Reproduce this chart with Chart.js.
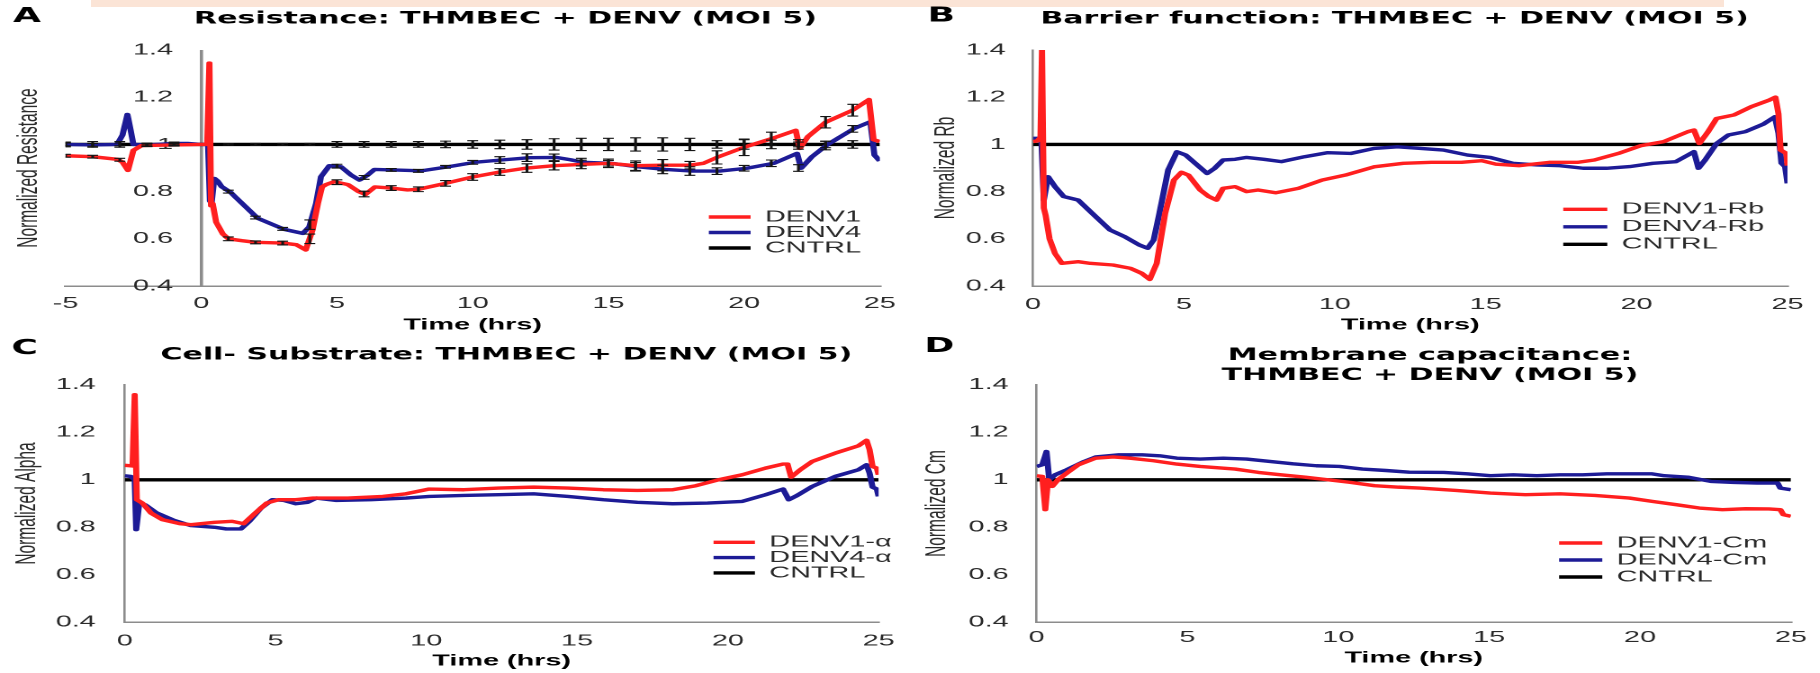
<!DOCTYPE html>
<html lang="en">
<head>
<meta charset="utf-8">
<title>THMBEC + DENV (MOI 5) impedance</title>
<script src="https://cdn.jsdelivr.net/npm/chart.js@4.4.1/dist/chart.umd.min.js"></script>
<style>
  html, body { margin: 0; padding: 0; background: #fff; }
  body { width: 1820px; height: 673px; position: relative; overflow: hidden; }
  .band { position: absolute; left: 91px; top: 0; width: 1633px; height: 7px; background: #fbe4d6; }
  .panel { position: absolute; transform-origin: 0 0; transform: scaleX(1.8); }
  .panel canvas { display: block; }
</style>
</head>
<body>
<div class="band"></div>
<div class="panel" style="left:0;top:0"><canvas id="chartA" width="506" height="333"></canvas></div>
<div class="panel" style="left:910px;top:0"><canvas id="chartB" width="506" height="333"></canvas></div>
<div class="panel" style="left:0;top:333px"><canvas id="chartC" width="506" height="340"></canvas></div>
<div class="panel" style="left:910px;top:333px"><canvas id="chartD" width="506" height="340"></canvas></div>
<script>
// ---------- axis ticks ----------
const Y_TICK_VALUES = [0.4, 0.6, 0.8, 1.0, 1.2, 1.4];
const Y_TICK_LABELS = ['0.4', '0.6', '0.8', '1', '1.2', '1.4'];
const X_TICK_VALUES_A = [-5, 0, 5, 10, 15, 20, 25];
const X_TICK_LABELS_A = ['-5', '0', '5', '10', '15', '20', '25'];
const X_TICK_VALUES = [0, 5, 10, 15, 20, 25];
const X_TICK_LABELS = ['0', '5', '10', '15', '20', '25'];

// ---------- control (normalized to 1) ----------
const CNTRL_HRS_A = [-5, 25];
const CNTRL_HRS = [0, 25];
const CNTRL_VAL = [1, 1];

// ---------- A: resistance ----------
const A_DENV1_HRS = [-5, -4, -3.1, -2.9, -2.7, -2.5, -2.2, -1, 0, 0.22, 0.3, 0.36, 0.42, 0.55, 0.8, 1, 1.5, 2, 3, 3.5, 3.85, 4.1, 4.3, 4.45, 4.6, 4.9, 5.4, 5.8, 6.05, 6.4, 7, 7.6, 8, 9, 10, 11, 12, 13, 14, 15, 16, 17, 18, 18.5, 19, 20, 21, 21.9, 22.05, 22.35, 23, 24, 24.6, 24.77, 25];
const A_DENV1_VAL = [0.952, 0.948, 0.937, 0.925, 0.89, 0.975, 0.995, 0.998, 1.0, 1.0, 1.345, 0.74, 0.75, 0.67, 0.62, 0.6, 0.592, 0.585, 0.582, 0.575, 0.553, 0.637, 0.75, 0.82, 0.83, 0.842, 0.83, 0.8, 0.788, 0.82, 0.815, 0.807, 0.81, 0.835, 0.862, 0.883, 0.9, 0.91, 0.915, 0.92, 0.91, 0.912, 0.912, 0.92, 0.945, 0.988, 1.024, 1.06, 0.983, 1.033, 1.094, 1.145, 1.19, 1.02, 1.012];
const A_DENV4_HRS = [-5, -4, -3.1, -2.9, -2.72, -2.6, -2.5, -2, -1, -0.5, 0, 0.25, 0.32, 0.38, 0.48, 0.6, 0.75, 1.1, 1.25, 2.08, 3.06, 3.74, 3.98, 4.23, 4.41, 4.72, 5.15, 5.52, 5.83, 6.13, 6.38, 7.36, 8.1, 9.08, 10.06, 11.05, 12.1, 13.07, 13.6, 14.08, 15.1, 16.1, 17.1, 18.1, 19.1, 20.1, 21.1, 21.95, 22.1, 22.5, 23.08, 24.06, 24.65, 24.8, 25];
const A_DENV4_VAL = [1.0, 0.998, 1.0, 1.04, 1.127, 1.06, 1.0, 0.998, 1.004, 1.004, 1.0, 1.0, 0.76, 0.75, 0.856, 0.845, 0.821, 0.795, 0.778, 0.687, 0.64, 0.623, 0.651, 0.75, 0.863, 0.91, 0.905, 0.87, 0.849, 0.87, 0.894, 0.891, 0.888, 0.905, 0.924, 0.934, 0.944, 0.945, 0.935, 0.924, 0.92, 0.905, 0.894, 0.887, 0.887, 0.899, 0.92, 0.962, 0.899, 0.948, 1.0, 1.068, 1.096, 0.955, 0.93];

// hourly error bars (mean and SD) for panel A
const ERR_HRS_A = [-5, -4, -3, -2, -1, 1, 2, 3, 4, 5, 6, 7, 8, 9, 10, 11, 12, 13, 14, 15, 16, 17, 18, 19, 20, 21, 22, 23, 24];
const A_DENV1_MEAN = [0.952, 0.948, 0.935, 0.996, 0.998, 0.6, 0.585, 0.582, 0.6, 0.84, 0.79, 0.815, 0.81, 0.835, 0.862, 0.883, 0.9, 0.91, 0.915, 0.92, 0.91, 0.912, 0.912, 0.945, 0.988, 1.024, 1.0, 1.094, 1.145];
const A_DENV1_SD = [0.006, 0.006, 0.006, 0.005, 0.005, 0.008, 0.006, 0.008, 0.02, 0.01, 0.012, 0.01, 0.01, 0.012, 0.014, 0.014, 0.018, 0.018, 0.018, 0.012, 0.02, 0.024, 0.016, 0.028, 0.035, 0.028, 0.02, 0.024, 0.025];
const A_DENV4_MEAN = [1.0, 0.998, 1.0, 0.998, 1.004, 0.8, 0.69, 0.642, 0.66, 0.908, 0.86, 0.892, 0.888, 0.905, 0.924, 0.934, 0.944, 0.945, 0.925, 0.92, 0.905, 0.894, 0.887, 0.887, 0.899, 0.92, 0.9, 0.995, 1.066];
const A_DENV4_SD = [0.006, 0.006, 0.006, 0.006, 0.006, 0.006, 0.006, 0.006, 0.02, 0.008, 0.008, 0.006, 0.006, 0.006, 0.008, 0.014, 0.016, 0.014, 0.016, 0.018, 0.018, 0.018, 0.018, 0.014, 0.012, 0.014, 0.014, 0.018, 0.014];
const A_CNTRL_MEAN = [1, 1, 1, 1, 1, 1, 1, 1, 1, 1, 1, 1, 1, 1, 1, 1, 1, 1, 1, 1, 1, 1, 1, 1, 1, 1, 1, 1, 1];
const A_CNTRL_SD = [0.01, 0.012, 0.012, 0.006, 0.006, 0.003, 0.004, 0.004, 0.004, 0.012, 0.012, 0.012, 0.012, 0.014, 0.016, 0.018, 0.02, 0.024, 0.026, 0.026, 0.028, 0.028, 0.026, 0.016, 0.02, 0.018, 0.01, 0.014, 0.016];

// ---------- B: barrier function (Rb) ----------
const B_DENV1_HRS = [0, 0.15, 0.25, 0.3, 0.36, 0.42, 0.55, 0.73, 0.96, 1.5, 1.9, 2.65, 3.23, 3.6, 3.87, 4.1, 4.38, 4.67, 4.92, 5.15, 5.54, 5.83, 6.08, 6.3, 6.7, 7.08, 7.46, 8.04, 8.8, 9.58, 10.35, 11.3, 12.27, 13.2, 14.2, 14.87, 15.35, 16.1, 17.1, 18.04, 18.6, 19.4, 20.15, 20.9, 21.7, 21.9, 22.08, 22.37, 22.65, 23.23, 23.8, 24.4, 24.6, 24.7, 24.77, 24.96, 25];
const B_DENV1_VAL = [1.012, 1.015, 1.03, 1.4, 0.73, 0.7, 0.6, 0.538, 0.496, 0.503, 0.496, 0.489, 0.475, 0.454, 0.428, 0.496, 0.708, 0.849, 0.882, 0.87, 0.807, 0.779, 0.764, 0.814, 0.821, 0.8, 0.807, 0.795, 0.814, 0.849, 0.87, 0.905, 0.92, 0.924, 0.924, 0.931, 0.916, 0.91, 0.924, 0.924, 0.934, 0.962, 0.995, 1.012, 1.054, 1.061, 1.004, 1.054, 1.11, 1.125, 1.16, 1.188, 1.2, 1.13, 0.976, 0.962, 0.91];
const B_DENV4_HRS = [0, 0.2, 0.28, 0.36, 0.5, 0.73, 1.02, 1.5, 2.08, 2.56, 3.04, 3.52, 3.8, 4.0, 4.19, 4.48, 4.77, 5.06, 5.44, 5.77, 6.02, 6.3, 6.7, 7.08, 7.65, 8.23, 9.0, 9.77, 10.54, 11.3, 12.08, 12.85, 13.6, 14.4, 15.15, 15.9, 16.7, 17.46, 18.23, 19.0, 19.77, 20.54, 21.3, 21.9, 22.05, 22.27, 22.65, 23.04, 23.6, 24.2, 24.58, 24.7, 24.8, 24.92, 25];
const B_DENV4_VAL = [1.026, 1.026, 1.02, 0.764, 0.863, 0.821, 0.779, 0.764, 0.694, 0.637, 0.609, 0.574, 0.56, 0.595, 0.708, 0.892, 0.969, 0.955, 0.913, 0.877, 0.899, 0.934, 0.937, 0.945, 0.937, 0.927, 0.948, 0.965, 0.962, 0.983, 0.99, 0.983, 0.976, 0.955, 0.945, 0.92, 0.913, 0.91, 0.899, 0.899, 0.906, 0.92, 0.927, 0.969, 0.899, 0.934, 1.004, 1.04, 1.054, 1.086, 1.117, 1.047, 0.92, 0.906, 0.835];

// ---------- C: cell-substrate (alpha) ----------
const C_DENV1_HRS = [0, 0.26, 0.33, 0.4, 0.58, 0.87, 1.25, 1.83, 2.2, 2.98, 3.56, 3.94, 4.33, 4.71, 5.1, 5.67, 6.25, 7.4, 8.56, 9.33, 10.1, 11.25, 12.4, 13.56, 14.7, 15.87, 17.0, 18.17, 18.94, 19.7, 20.48, 21.25, 21.83, 21.98, 22.1, 22.4, 22.8, 23.56, 24.33, 24.6, 24.7, 24.8, 24.94, 25];
const C_DENV1_VAL = [1.061, 1.058, 1.358, 0.916, 0.902, 0.86, 0.832, 0.815, 0.811, 0.821, 0.825, 0.815, 0.86, 0.902, 0.916, 0.916, 0.923, 0.923, 0.93, 0.941, 0.961, 0.958, 0.965, 0.969, 0.965, 0.958, 0.955, 0.958, 0.975, 1.0, 1.021, 1.049, 1.066, 1.066, 1.011, 1.042, 1.077, 1.112, 1.143, 1.166, 1.127, 1.056, 1.049, 1.021];
const C_DENV4_HRS = [0, 0.2, 0.33, 0.38, 0.48, 0.67, 1.06, 1.63, 2.2, 2.98, 3.37, 3.85, 4.13, 4.52, 4.9, 5.29, 5.67, 6.06, 6.35, 7.02, 8.17, 9.33, 10.1, 11.25, 12.4, 13.56, 14.7, 15.87, 17.0, 18.17, 19.33, 20.48, 21.25, 21.83, 22.02, 22.3, 22.8, 23.56, 24.33, 24.6, 24.7, 24.8, 24.94, 25];
const C_DENV4_VAL = [1.017, 1.014, 1.0, 0.79, 0.902, 0.895, 0.86, 0.829, 0.807, 0.8, 0.793, 0.793, 0.825, 0.881, 0.916, 0.913, 0.899, 0.905, 0.923, 0.913, 0.916, 0.923, 0.93, 0.934, 0.937, 0.941, 0.93, 0.916, 0.905, 0.899, 0.902, 0.909, 0.937, 0.961, 0.916, 0.934, 0.972, 1.014, 1.042, 1.063, 1.028, 0.969, 0.961, 0.93];

// ---------- D: membrane capacitance (Cm) ----------
const D_DENV1_HRS = [0, 0.19, 0.29, 0.38, 0.52, 0.71, 1.0, 1.38, 1.96, 2.54, 3.1, 3.88, 4.65, 5.42, 6.58, 7.35, 8.1, 8.9, 9.65, 10.4, 11.2, 12.0, 12.7, 13.9, 15.04, 16.2, 17.35, 18.5, 19.65, 20.4, 21.2, 21.96, 22.73, 23.5, 24.27, 24.65, 24.75, 25];
const D_DENV1_VAL = [1.017, 1.014, 0.874, 1.0, 0.972, 1.0, 1.028, 1.063, 1.091, 1.096, 1.091, 1.08, 1.066, 1.056, 1.045, 1.031, 1.021, 1.011, 1.0, 0.989, 0.975, 0.969, 0.965, 0.955, 0.944, 0.937, 0.941, 0.934, 0.923, 0.909, 0.895, 0.881, 0.874, 0.878, 0.877, 0.874, 0.853, 0.846];
const D_DENV4_HRS = [0, 0.19, 0.33, 0.42, 0.62, 1.0, 1.58, 1.96, 2.73, 3.5, 4.08, 4.65, 5.42, 6.19, 6.96, 7.73, 8.5, 9.27, 10.04, 10.8, 11.58, 12.35, 13.5, 14.27, 15.04, 15.8, 16.58, 17.35, 18.1, 18.9, 19.65, 20.4, 20.8, 21.58, 22.35, 23.1, 23.88, 24.56, 24.65, 25];
const D_DENV4_VAL = [1.056, 1.063, 1.119, 1.0, 1.021, 1.042, 1.077, 1.096, 1.105, 1.105, 1.101, 1.091, 1.087, 1.091, 1.087, 1.077, 1.067, 1.059, 1.056, 1.045, 1.039, 1.032, 1.031, 1.025, 1.017, 1.021, 1.017, 1.021, 1.021, 1.025, 1.025, 1.025, 1.017, 1.011, 0.993, 0.989, 0.986, 0.986, 0.965, 0.958];

// ---------- styling ----------
const RED = '#ff1f1f';
const BLUE = '#1d1b96';
const BLACK = '#000000';
const AXIS_GRAY = '#8c8c8c';
const TEXT = '#2a2a2a';
const SANS = '"Liberation Sans", Arial, sans-serif';
Chart.defaults.font.family = SANS;

function points(xs, ys) { return xs.map((x, i) => ({ x: x, y: ys[i] })); }

function curve(label, xs, ys, color, order) {
  return {
    type: 'line', label: label, data: points(xs, ys), order: order,
    borderColor: color, backgroundColor: color, borderWidth: 3.4,
    borderJoinStyle: 'round', pointRadius: 0, pointHoverRadius: 0, tension: 0, fill: false
  };
}

function errorStems(xs, mean, sd) {
  return {
    type: 'bar', errorBar: true, order: 0, grouped: false,
    data: xs.map((x, i) => ({ x: x, y: [mean[i] - sd[i], mean[i] + sd[i]] })),
    backgroundColor: '#151515', barThickness: 0.9
  };
}

function errorCaps(xs, mean, sd) {
  const d = [];
  xs.forEach((x, i) => { d.push({ x: x, y: mean[i] - sd[i] }); d.push({ x: x, y: mean[i] + sd[i] }); });
  return {
    type: 'scatter', errorBar: true, order: 0, data: d, showLine: false,
    pointStyle: 'line', pointRadius: 3, pointHoverRadius: 3,
    pointBorderColor: '#151515', pointBorderWidth: 1.1, borderColor: '#151515'
  };
}

// places the panel letter, centres the title and pins the legend inside the plot
const panelDecor = {
  id: 'panelDecor',
  afterLayout(chart, args, o) {
    const t = chart.titleBlock;
    if (t) { t.left = o.titleX - 240; t.right = o.titleX + 240; t.width = 480; }
    const lg = chart.legend;
    if (lg) {
      const pad = chart.options.plugins.legend.labels.padding;
      const w = lg.width;
      lg.left = o.legendX - pad;
      lg.right = lg.left + w;
      lg.top = o.legendY - 8 - pad;
      lg.bottom = lg.top + 200;
    }
  },
  afterDraw(chart, args, o) {
    const ctx = chart.ctx;
    ctx.save();
    ctx.font = 'bold 20px "DejaVu Sans"';
    ctx.fillStyle = '#000';
    ctx.textAlign = 'left';
    ctx.textBaseline = 'middle';
    ctx.fillText(o.letter, o.letterX, o.letterY);
    ctx.restore();
  }
};

function yTicksFrom(s) { s.ticks = Y_TICK_VALUES.map(v => ({ value: v })); }

function buildPanel(id, p) {
  const datasets = [
    curve(p.names[0], p.d1x, p.d1y, RED, 1),
    curve(p.names[1], p.d4x, p.d4y, BLUE, 2),
    curve(p.names[2], p.cx, CNTRL_VAL, BLACK, 3)
  ];
  if (p.errors) {
    p.errors.forEach(e => {
      datasets.push(errorStems(ERR_HRS_A, e[0], e[1]));
      datasets.push(errorCaps(ERR_HRS_A, e[0], e[1]));
    });
  }
  const crossAtZero = !!p.crossAtZero;
  const tickFont = { family: SANS, size: 16 };

  const scales = {
    x: {
      type: 'linear', min: p.xTicks[0], max: p.xTicks[p.xTicks.length - 1],
      offset: false,
      afterBuildTicks: s => { s.ticks = p.xTicks.map(v => ({ value: v })); },
      afterFit: s => { s.height = p.xAxisH; },
      ticks: {
        autoSkip: false, maxRotation: 0, padding: p.xTickPad, color: TEXT, font: tickFont,
        callback: (v, i) => p.xLabels[i]
      },
      // when the vertical axis crosses at 0 h it is drawn as the 0 h grid line
      grid: {
        display: crossAtZero, drawTicks: false, offset: false, lineWidth: 1.8,
        color: c => (c.tick && c.tick.value === 0) ? AXIS_GRAY : 'rgba(0,0,0,0)'
      },
      border: { display: true, color: AXIS_GRAY, width: 1.5 },
      title: {
        display: true, text: 'Time (hrs)', color: '#000',
        font: { family: SANS, weight: 'bold', size: 16 },
        padding: { top: 0, bottom: p.xTitlePad }
      }
    },
    y: {
      type: 'linear', position: 'left', min: 0.4, max: 1.4, beginAtZero: false,
      afterBuildTicks: yTicksFrom,
      afterFit: s => { s.width = p.yAxisW; },
      ticks: {
        display: !crossAtZero, autoSkip: false, padding: p.yTickPad, color: TEXT, font: tickFont,
        callback: (v, i) => Y_TICK_LABELS[i]
      },
      grid: { display: false, drawTicks: false },
      border: { display: !crossAtZero, color: AXIS_GRAY, width: 1.3 },
      title: {
        display: true, text: p.yTitle, color: TEXT,
        font: { family: SANS, size: 15.5 },
        padding: { top: p.yTitlePad, bottom: 0 }
      }
    }
  };
  if (crossAtZero) {
    // value labels sitting beside the 0 h axis line (mirrored right-hand scale)
    scales.yCross = {
      type: 'linear', position: 'right', min: 0.4, max: 1.4, beginAtZero: false,
      afterBuildTicks: yTicksFrom,
      afterFit: s => {
        s.width = 0;
        s.paddingTop = 0; s.paddingBottom = 0; s.paddingLeft = 0; s.paddingRight = 0;
      },
      ticks: {
        mirror: true, crossAlign: 'near', autoSkip: false, padding: p.yCrossPad,
        color: TEXT, font: tickFont,
        callback: (v, i) => Y_TICK_LABELS[i]
      },
      grid: { display: false, drawTicks: false },
      border: { display: false }
    };
  }

  new Chart(document.getElementById(id), {
    type: 'line',
    data: { datasets: datasets },
    options: {
      responsive: false,
      animation: false,
      devicePixelRatio: 2,
      events: [],
      layout: { padding: { left: 0, right: p.padRight, top: 0, bottom: 0 } },
      plugins: {
        tooltip: { enabled: false },
        title: {
          display: true, text: p.title, color: '#000',
          font: { family: '"DejaVu Sans", sans-serif', weight: 'bold', size: 16.7, lineHeight: 1.2 },
          padding: { top: p.titlePad[0], bottom: p.titlePad[1] }
        },
        legend: {
          display: true, position: 'chartArea', align: 'start',
          labels: {
            usePointStyle: true, pointStyle: 'line', pointStyleWidth: p.legendLine,
            font: { family: SANS, size: 16 }, color: TEXT, padding: p.legendPad,
            filter: (item, data) => !data.datasets[item.datasetIndex].errorBar
          }
        },
        panelDecor: {
          letter: p.letter, letterX: p.letterXY[0], letterY: p.letterXY[1],
          titleX: p.titleX, legendX: p.legendXY[0], legendY: p.legendXY[1]
        }
      },
      scales: scales
    },
    plugins: [panelDecor]
  });
}

buildPanel('chartA', {
  letter: 'A', letterXY: [7.2, 17],
  title: 'Resistance: THMBEC + DENV (MOI 5)', titleX: 280.8, titlePad: [9, 21],
  yTitle: 'Normalized Resistance', yTitlePad: 6.7,
  names: ['DENV1', 'DENV4', 'CNTRL'],
  d1x: A_DENV1_HRS, d1y: A_DENV1_VAL, d4x: A_DENV4_HRS, d4y: A_DENV4_VAL, cx: CNTRL_HRS_A,
  errors: [[A_DENV1_MEAN, A_DENV1_SD], [A_DENV4_MEAN, A_DENV4_SD], [A_CNTRL_MEAN, A_CNTRL_SD]],
  crossAtZero: true, yCrossPad: -392.7,
  xTicks: X_TICK_VALUES_A, xLabels: X_TICK_LABELS_A,
  padRight: 17.2, yAxisW: 36.4, xAxisH: 47, yTickPad: 0, xTickPad: 8, xTitlePad: -1.6,
  legendXY: [393.3, 217], legendLine: 23.7, legendPad: -0.5
});

buildPanel('chartB', {
  letter: 'B', letterXY: [9.7, 16.5],
  title: 'Barrier function: THMBEC + DENV (MOI 5)', titleX: 269.2, titlePad: [9, 21],
  yTitle: 'Normalized Rb', yTitlePad: 10.9,
  names: ['DENV1-Rb', 'DENV4-Rb', 'CNTRL'],
  d1x: B_DENV1_HRS, d1y: B_DENV1_VAL, d4x: B_DENV4_HRS, d4y: B_DENV4_VAL, cx: CNTRL_HRS,
  xTicks: X_TICK_VALUES, xLabels: X_TICK_LABELS,
  padRight: 18.5, yAxisW: 68.3, xAxisH: 47, yTickPad: 15.1, xTickPad: 8.9, xTitlePad: -1.6,
  legendXY: [362.9, 209.3], legendLine: 24.5, legendPad: 1.5
});

buildPanel('chartC', {
  letter: 'C', letterXY: [6.4, 15.8],
  title: 'Cell- Substrate: THMBEC + DENV (MOI 5)', titleX: 281.3, titlePad: [12.3, 19.4],
  yTitle: 'Normalized Alpha', yTitlePad: 6,
  names: ['DENV1-\u03b1', 'DENV4-\u03b1', 'CNTRL'],
  d1x: C_DENV1_HRS, d1y: C_DENV1_VAL, d4x: C_DENV4_HRS, d4y: C_DENV4_VAL, cx: CNTRL_HRS,
  xTicks: X_TICK_VALUES, xLabels: X_TICK_LABELS,
  padRight: 17.5, yAxisW: 69.3, xAxisH: 50.7, yTickPad: 16.1, xTickPad: 9, xTitlePad: 2.1,
  legendXY: [395.7, 209.3], legendLine: 23.7, legendPad: -0.7
});

buildPanel('chartD', {
  letter: 'D', letterXY: [8, 14],
  title: ['Membrane capacitance:', 'THMBEC + DENV (MOI 5)'], titleX: 288.9, titlePad: [12.5, -0.84],
  yTitle: 'Normalized Cm', yTitlePad: 6,
  names: ['DENV1-Cm', 'DENV4-Cm', 'CNTRL'],
  d1x: D_DENV1_HRS, d1y: D_DENV1_VAL, d4x: D_DENV4_HRS, d4y: D_DENV4_VAL, cx: CNTRL_HRS,
  xTicks: X_TICK_VALUES, xLabels: X_TICK_LABELS,
  padRight: 16.6, yAxisW: 70.3, xAxisH: 50.7, yTickPad: 15.5, xTickPad: 5.6, xTitlePad: 5.4,
  legendXY: [360.6, 210], legendLine: 24, legendPad: 1
});
</script>
</body>
</html>
